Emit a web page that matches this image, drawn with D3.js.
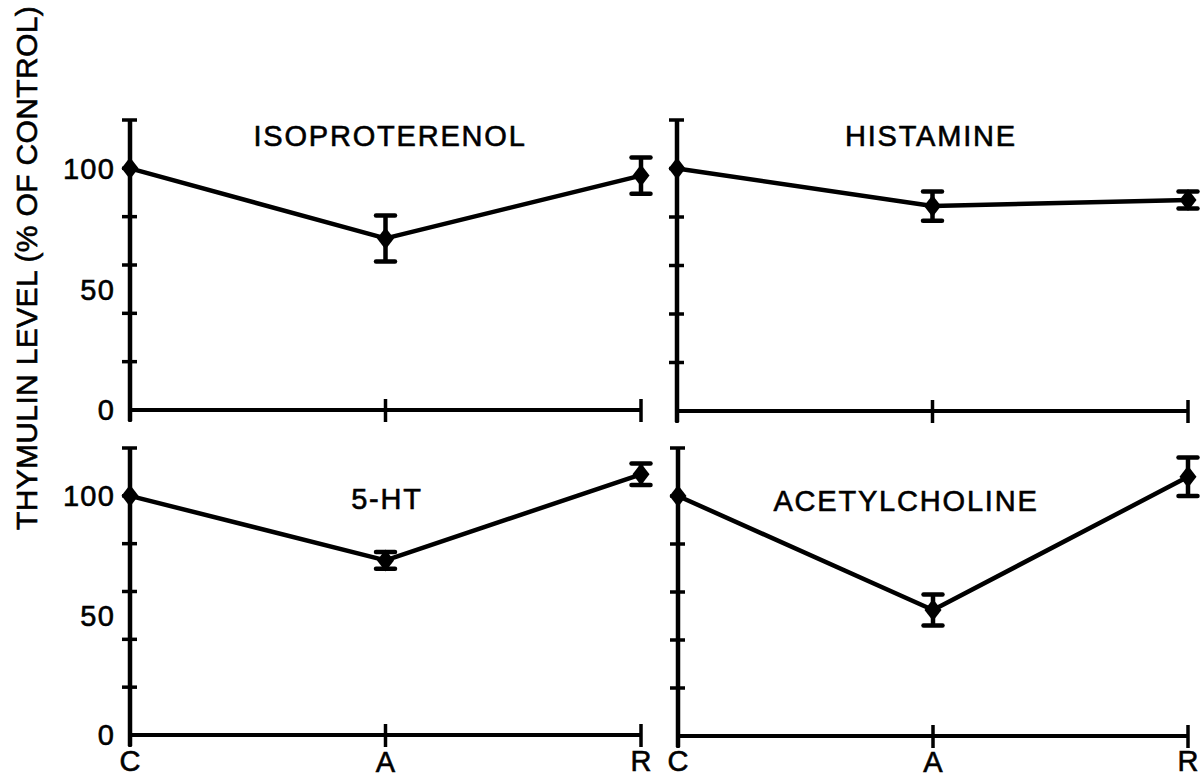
<!DOCTYPE html>
<html>
<head>
<meta charset="utf-8">
<script src="https://cdn.jsdelivr.net/npm/d3@7"></script>
<style>
  html, body { margin: 0; padding: 0; background: #fff; }
  svg { display: block; }
  text { font-family: "Liberation Sans", Arial, sans-serif; fill: #000; stroke: #000; stroke-width: 0.6; }
</style>
</head>
<body>
<svg id="chart" width="1201" height="778"></svg>
<script>
// ---- data ----
const categories = ["C", "A", "R"];
const panelTitles = ["ISOPROTERENOL", "HISTAMINE", "5-HT", "ACETYLCHOLINE"];
const isoMeans = [100, 71, 97];
const isoErrors = [0, 9.5, 7.5];
const hisMeans = [100, 84.5, 87];
const hisErrors = [0, 6, 3.5];
const htMeans = [100, 73, 109];
const htErrors = [0, 3.5, 4.5];
const achMeans = [100, 52.5, 108];
const achErrors = [0, 6.5, 8];
const yTickValues = [0, 20, 40, 60, 80, 100, 120];
const yTickLabels = [0, 50, 100];
const yAxisTitle = "THYMULIN LEVEL (% OF CONTROL)";

const seriesMeans = [isoMeans, hisMeans, htMeans, achMeans];
const seriesErrors = [isoErrors, hisErrors, htErrors, achErrors];

// ---- layout ----
const layout = [
  { x0: 130, x1: 641, yTop: 120, yZero: 410, labels: true,  titleX: 390, titleY: 146 },
  { x0: 677, x1: 1188, yTop: 120, yZero: 411, labels: false, titleX: 931, titleY: 146 },
  { x0: 130, x1: 641, yTop: 448, yZero: 735, labels: true,  titleX: 387, titleY: 509 },
  { x0: 678, x1: 1188, yTop: 448, yZero: 736, labels: false, titleX: 906, titleY: 511 }
];

const svg = d3.select("#chart");
const ink = "#000";

layout.forEach((L, i) => {
  const g = svg.append("g");
  const x = d3.scalePoint().domain(categories).range([L.x0, L.x1]);
  const y = d3.scaleLinear().domain([0, 120]).range([L.yZero, L.yTop]);

  // y axis line (extends slightly below zero)
  g.append("line")
    .attr("x1", L.x0).attr("x2", L.x0)
    .attr("y1", y(120)).attr("y2", y(0) + 11)
    .attr("stroke", ink).attr("stroke-width", 4.5);
  // y ticks crossing axis
  g.selectAll(".yt").data(yTickValues.filter(v => v > 0)).enter().append("line")
    .attr("x1", L.x0 - 8).attr("x2", L.x0 + 7)
    .attr("y1", d => y(d)).attr("y2", d => y(d))
    .attr("stroke", ink).attr("stroke-width", 3.5);
  // x axis line
  g.append("line")
    .attr("x1", L.x0).attr("x2", x("R"))
    .attr("y1", y(0)).attr("y2", y(0))
    .attr("stroke", ink).attr("stroke-width", 4);
  // x ticks crossing axis
  g.selectAll(".xt").data(categories).enter().append("line")
    .attr("x1", d => x(d)).attr("x2", d => x(d))
    .attr("y1", y(0) - 11).attr("y2", y(0) + 12)
    .attr("stroke", ink).attr("stroke-width", 3.5);

  // y tick labels
  if (L.labels) {
    g.selectAll(".yl").data(yTickLabels).enter().append("text")
      .attr("x", L.x0 - 15)
      .attr("y", d => y(d))
      .attr("dy", "0.36em")
      .attr("text-anchor", "end")
      .attr("font-size", 29)
      .attr("letter-spacing", 1.2)
      .text(d => d);
  }

  // x labels (bottom row only)
  if (i >= 2) {
    g.selectAll(".xl").data(categories).enter().append("text")
      .attr("x", d => x(d))
      .attr("y", d => d === "A" ? 772 : 771)
      .attr("text-anchor", "middle")
      .attr("font-size", 29)
      .text(d => d);
  }

  // title
  g.append("text")
    .attr("x", L.titleX).attr("y", L.titleY)
    .attr("text-anchor", "middle")
    .attr("font-size", 29)
    .attr("letter-spacing", 1.8)
    .text(panelTitles[i]);

  const means = seriesMeans[i];
  const errs = seriesErrors[i];
  const pts = categories.map((c, k) => ({ c, m: means[k], e: errs[k] }));

  // connecting line
  g.append("path")
    .datum(pts)
    .attr("fill", "none")
    .attr("stroke", ink)
    .attr("stroke-width", 4.5)
    .attr("stroke-linejoin", "round")
    .attr("d", d3.line().x(d => x(d.c)).y(d => y(d.m)));

  // error bars
  const eb = g.selectAll(".eb").data(pts.filter(d => d.e > 0)).enter().append("g");
  eb.append("line")
    .attr("x1", d => x(d.c)).attr("x2", d => x(d.c))
    .attr("y1", d => y(d.m + d.e)).attr("y2", d => y(d.m - d.e))
    .attr("stroke", ink).attr("stroke-width", 4.5);
  eb.append("line")
    .attr("x1", d => x(d.c) - 9.5).attr("x2", d => x(d.c) + 9.5)
    .attr("y1", d => y(d.m + d.e)).attr("y2", d => y(d.m + d.e))
    .attr("stroke", ink).attr("stroke-width", 4.5).attr("stroke-linecap", "round");
  eb.append("line")
    .attr("x1", d => x(d.c) - 9.5).attr("x2", d => x(d.c) + 9.5)
    .attr("y1", d => y(d.m - d.e)).attr("y2", d => y(d.m - d.e))
    .attr("stroke", ink).attr("stroke-width", 4.5).attr("stroke-linecap", "round");

  // diamond markers
  g.selectAll(".mk").data(pts).enter().append("path")
    .attr("d", d => {
      const cx = x(d.c), cy = y(d.m);
      return `M${cx},${cy - 11}L${cx + 8.5},${cy}L${cx},${cy + 11}L${cx - 8.5},${cy}Z`;
    })
    .attr("fill", ink);
});

// y axis title
svg.append("text")
  .attr("transform", "translate(37,268) rotate(-90)")
  .attr("text-anchor", "middle")
  .attr("font-size", 30)
  .attr("letter-spacing", 0.35)
  .text(yAxisTitle);
</script>
</body>
</html>
